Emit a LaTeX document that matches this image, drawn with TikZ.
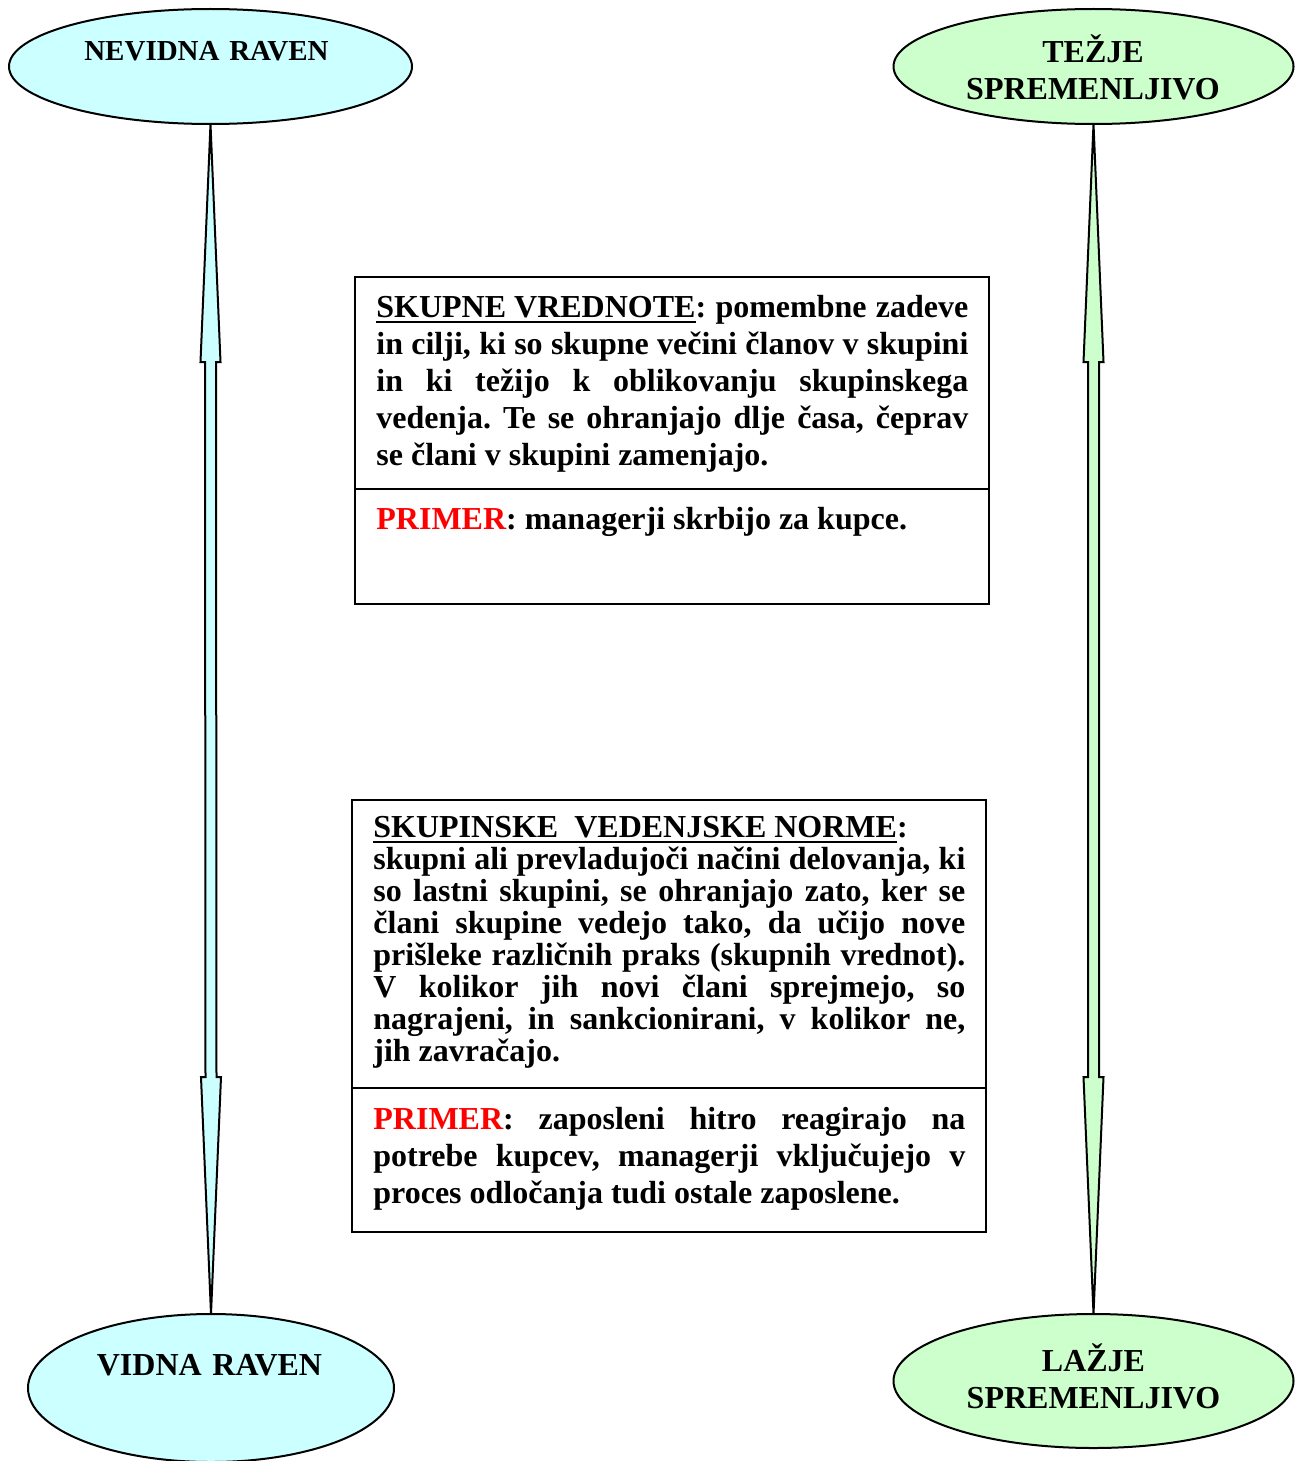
\documentclass[tikz,border=0pt]{standalone}
\usepackage{fontspec}
\setmainfont{Liberation Serif}
\usetikzlibrary{shapes.geometric,calc}
\definecolor{paleblue}{HTML}{CCFFFF}
\definecolor{palegreen}{HTML}{CCFFCC}
\definecolor{primerred}{HTML}{FF0000}
% heavy underline for the box headings
\newcommand\ulhead[1]{\setbox0=\hbox{#1}\rlap{\rule[-3.2pt]{\wd0}{1.35pt}}\box0}
\hbadness=10000
\frenchspacing
\begin{document}
\begin{tikzpicture}[x=0.5pt,y=-0.5pt,
  oval/.style={ellipse, draw, line width=1pt, inner sep=0pt, outer sep=0pt},
  panel/.style={draw, line width=1pt, inner sep=0pt, outer sep=0pt},
  body/.style={anchor=base west, inner sep=0pt, text width=296pt, align=justify,
    font=\bfseries\fontsize{16}{18.5}\selectfont},
  ovallabel/.style={anchor=base, inner sep=0pt, text width=200pt, align=center,
    font=\bfseries\fontsize{16}{18.5}\selectfont},
  twoway/.style={draw, line width=1pt, line join=miter},
]
\useasboundingbox (0,0) rectangle (1295,1461);

% ellipses at the four corners
\node[oval, fill=paleblue, minimum width=201.5pt, minimum height=57.5pt] (nev) at (210.5,66.5) {};
\node[oval, fill=palegreen, minimum width=200pt, minimum height=57.5pt] (tez) at (1093.5,66.5) {};
\node[oval, fill=paleblue, minimum width=183pt, minimum height=74pt] (vid) at (211,1388) {};
\node[oval, fill=palegreen, minimum width=200pt, minimum height=67pt] (laz) at (1093.5,1381) {};

\node[ovallabel, font=\bfseries\fontsize{14.5}{18}\selectfont] (nevt) at (206.5,61) {NEVIDNA RAVEN};
\node[ovallabel] (tezt) at (1093,63) {TEŽJE\\SPREMENLJIVO};
\node[ovallabel] (vidt) at (209.5,1375) {VIDNA RAVEN};
\node[ovallabel] (lazt) at (1093.5,1371) {LAŽJE\\SPREMENLJIVO};

% double-headed block arrows between the ellipses
\path[twoway, fill=paleblue]
  (nev.south) -- ($(nev.south)+(10,238)$) -- ($(nev.south)+(5.5,238)$)
  -- ($(vid.north)+(5.5,-237)$) -- ($(vid.north)+(10,-237)$) -- (vid.north)
  -- ($(vid.north)+(-10,-237)$) -- ($(vid.north)+(-5.5,-237)$)
  -- ($(nev.south)+(-5.5,238)$) -- ($(nev.south)+(-10,238)$) -- cycle;
\path[twoway, fill=palegreen]
  (tez.south) -- ($(tez.south)+(10,238)$) -- ($(tez.south)+(5.5,238)$)
  -- ($(laz.north)+(5.5,-237)$) -- ($(laz.north)+(10,-237)$) -- (laz.north)
  -- ($(laz.north)+(-10,-237)$) -- ($(laz.north)+(-5.5,-237)$)
  -- ($(tez.south)+(-5.5,238)$) -- ($(tez.south)+(-10,238)$) -- cycle;

% upper box: shared values
\node[panel, minimum width=317pt, minimum height=163.5pt] (b1) at (672,440.5) {};
\coordinate (d1) at (0,489);
\draw[line width=1pt] (b1.west |- d1) -- (b1.east |- d1);
\node[body] (t1) at (376,317) {\ulhead{SKUPNE VREDNOTE}: pomembne zadeve\linebreak
 in cilji, ki so skupne večini članov v skupini\linebreak
 in ki težijo k oblikovanju skupinskega\linebreak
 vedenja. Te se ohranjajo dlje časa, čeprav\linebreak
 se člani v skupini zamenjajo.};
\node[body] (p1) at (376,529) {\textcolor{primerred}{PRIMER}: managerji skrbijo za kupce.};

% lower box: group behaviour norms
\node[panel, minimum width=317pt, minimum height=216pt] (b2) at (669,1016) {};
\coordinate (d2) at (0,1088);
\draw[line width=1pt] (b2.west |- d2) -- (b2.east |- d2);
\node[body, font=\bfseries\fontsize{16}{16}\selectfont] (t2) at (373,837)
 {\ulhead{SKUPINSKE\ \ VEDENJSKE NORME}:\\
 skupni ali prevladujoči načini delovanja, ki\linebreak
 so lastni skupini, se ohranjajo zato, ker se\linebreak
 člani skupine vedejo tako, da učijo nove\linebreak
 prišleke različnih praks (skupnih vrednot).\linebreak
 V kolikor jih novi člani sprejmejo, so\linebreak
 nagrajeni, in sankcionirani, v kolikor ne,\linebreak
 jih zavračajo.};
\node[body] (p2) at (373,1129) {\textcolor{primerred}{PRIMER}: zaposleni hitro reagirajo na\linebreak
 potrebe kupcev, managerji vključujejo v\linebreak
 proces odločanja tudi ostale zaposlene.};
\end{tikzpicture}
\end{document}
